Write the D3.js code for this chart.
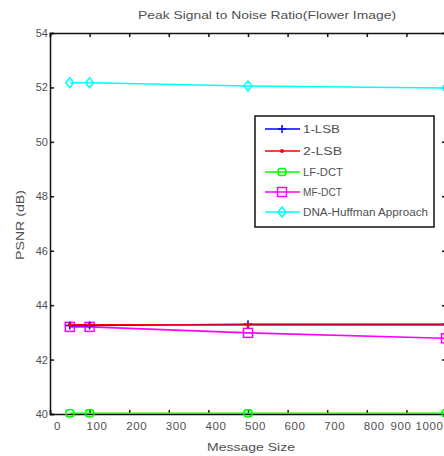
<!DOCTYPE html>
<html>
<head>
<meta charset="utf-8">
<script src="https://cdn.jsdelivr.net/npm/d3@7"></script>
<style>
  html, body { margin: 0; padding: 0; background: #fff; }
  svg { display: block; }
  text { font-family: "Liberation Sans", Arial, sans-serif; fill: #505050; }
</style>
</head>
<body>
<svg id="chart" width="444" height="456"></svg>
<script>
// Message sizes (x) and PSNR values (dB) for each method
const messageSizes = [50, 100, 500, 1000];
const lsb1 = [43.25, 43.25, 43.3, 43.3];
const lsb2 = [43.28, 43.28, 43.27, 43.27];
const lfDct = [40.03, 40.03, 40.03, 40.03];
const mfDct = [43.2, 43.2, 42.98, 42.78];
const dnaHuffman = [52.17, 52.17, 52.05, 51.98];

const seriesNames = ["1-LSB", "2-LSB", "LF-DCT", "MF-DCT", "DNA-Huffman  Approach"];
const seriesColors = ["#0000ff", "#ff0000", "#00ff00", "#ff00ff", "#00ffff"];
const seriesMarkers = ["plus", "dot", "circle", "square", "diamond"];
const xTicks = [0, 100, 200, 300, 400, 500, 600, 700, 800, 900, 1000];
const yTicks = [40, 42, 44, 46, 48, 50, 52, 54];

const series = [lsb1, lsb2, lfDct, mfDct, dnaHuffman].map((vals, i) => ({
  name: seriesNames[i], color: seriesColors[i], marker: seriesMarkers[i],
  points: vals.map((v, j) => ({ x: messageSizes[j], y: v }))
}));

const svg = d3.select("#chart");
const m = { left: 50, top: 33, right: 446, bottom: 414 };

const x = d3.scaleLinear().domain([0, 1000]).range([m.left, m.right]);
const y = d3.scaleLinear().domain([40, 54]).range([m.bottom, m.top]);

// Title and axis labels
svg.append("text").attr("x", 267).attr("y", 19).attr("text-anchor", "middle")
  .attr("font-size", 11).attr("textLength", 258).attr("lengthAdjust", "spacingAndGlyphs")
  .text("Peak Signal to Noise Ratio(Flower Image)");
svg.append("text").attr("x", 251).attr("y", 451).attr("text-anchor", "middle")
  .attr("font-size", 11).attr("textLength", 88).attr("lengthAdjust", "spacingAndGlyphs")
  .text("Message Size");
svg.append("text").attr("transform", "translate(24,225) rotate(-90)").attr("text-anchor", "middle")
  .attr("font-size", 10).attr("textLength", 70).attr("lengthAdjust", "spacingAndGlyphs")
  .text("PSNR (dB)");

// Axes with inward ticks
const gx = svg.append("g").attr("transform", `translate(0,${m.bottom})`)
  .call(d3.axisBottom(x).tickValues(xTicks).tickFormat(d3.format("d")).tickSize(-4).tickPadding(8));
const gxTop = svg.append("g").attr("transform", `translate(0,${m.top})`)
  .call(d3.axisTop(x).tickValues(xTicks).tickSize(-4).tickFormat(""));
const gy = svg.append("g").attr("transform", `translate(${m.left},0)`)
  .call(d3.axisLeft(y).tickValues(yTicks).tickSize(-4).tickPadding(3));
const gyRight = svg.append("g").attr("transform", `translate(${m.right},0)`)
  .call(d3.axisRight(y).tickValues(yTicks).tickSize(-4).tickFormat(""));

[gx, gxTop, gy, gyRight].forEach(g => {
  g.select(".domain").attr("stroke", "#111").attr("stroke-width", 1.5);
  g.selectAll(".tick line").attr("stroke", "#111").attr("stroke-width", 1.5);
});
// Bottom labels sit a little right of their ticks; the last two are squeezed in
gx.selectAll(".tick text").attr("font-size", 11.5).attr("fill", "#505050")
  .attr("font-family", "Liberation Sans, Arial, sans-serif").attr("letter-spacing", 0.6)
  .attr("dx", d => d === 1000 ? -17 : d === 900 ? -6 : 7);
gy.selectAll(".tick text").attr("font-size", 11).attr("fill", "#505050")
  .attr("font-family", "Liberation Sans, Arial, sans-serif").attr("dx", 1);

// Marker drawing helper
function drawMarker(g, type, color, cx, cy) {
  if (type === "plus") {
    g.append("path").attr("d", `M${cx - 4},${cy}H${cx + 4}M${cx},${cy - 4}V${cy + 4}`)
      .attr("stroke", color).attr("stroke-width", 1.5).attr("fill", "none");
  } else if (type === "dot") {
    g.append("circle").attr("cx", cx).attr("cy", cy).attr("r", 2).attr("fill", color);
  } else if (type === "circle") {
    g.append("rect").attr("x", cx - 4).attr("y", cy - 3.5).attr("width", 8).attr("height", 7)
      .attr("rx", 2.5).attr("fill", "none").attr("stroke", color).attr("stroke-width", 1.5);
  } else if (type === "square") {
    g.append("rect").attr("x", cx - 4.5).attr("y", cy - 4.5).attr("width", 9).attr("height", 9)
      .attr("fill", "none").attr("stroke", color).attr("stroke-width", 1.5);
  } else if (type === "diamond") {
    g.append("path").attr("d", `M${cx},${cy - 5}L${cx + 4},${cy}L${cx},${cy + 5}L${cx - 4},${cy}Z`)
      .attr("fill", "none").attr("stroke", color).attr("stroke-width", 1.5);
  }
}

// Data lines and markers
const line = d3.line().x(d => x(d.x)).y(d => y(d.y));
const drawOrder = [4, 3, 2, 0, 1];
drawOrder.forEach(i => {
  const s = series[i];
  const g = svg.append("g");
  g.append("path").datum(s.points).attr("d", line)
    .attr("fill", "none").attr("stroke", s.color).attr("stroke-width", 1.6);
  s.points.forEach(p => drawMarker(g, s.marker, s.color, x(p.x), y(p.y)));
});

// Legend
const legend = svg.append("g");
legend.append("rect").attr("x", 255).attr("y", 116).attr("width", 179).attr("height", 111)
  .attr("fill", "#fff").attr("stroke", "#111").attr("stroke-width", 1.5);
const legendY = [129, 151, 172, 192, 212];
const legendW = [37, 39, 40, 39, 125];
series.forEach((s, i) => {
  const ly = legendY[i];
  legend.append("line").attr("x1", 265).attr("x2", 300).attr("y1", ly).attr("y2", ly)
    .attr("stroke", s.color).attr("stroke-width", 1.6);
  drawMarker(legend, s.marker, s.color, 282, ly);
  legend.append("text").attr("x", 303).attr("y", ly + 4).attr("font-size", 10)
    .attr("textLength", legendW[i]).attr("lengthAdjust", "spacingAndGlyphs").text(s.name);
});
</script>
</body>
</html>
